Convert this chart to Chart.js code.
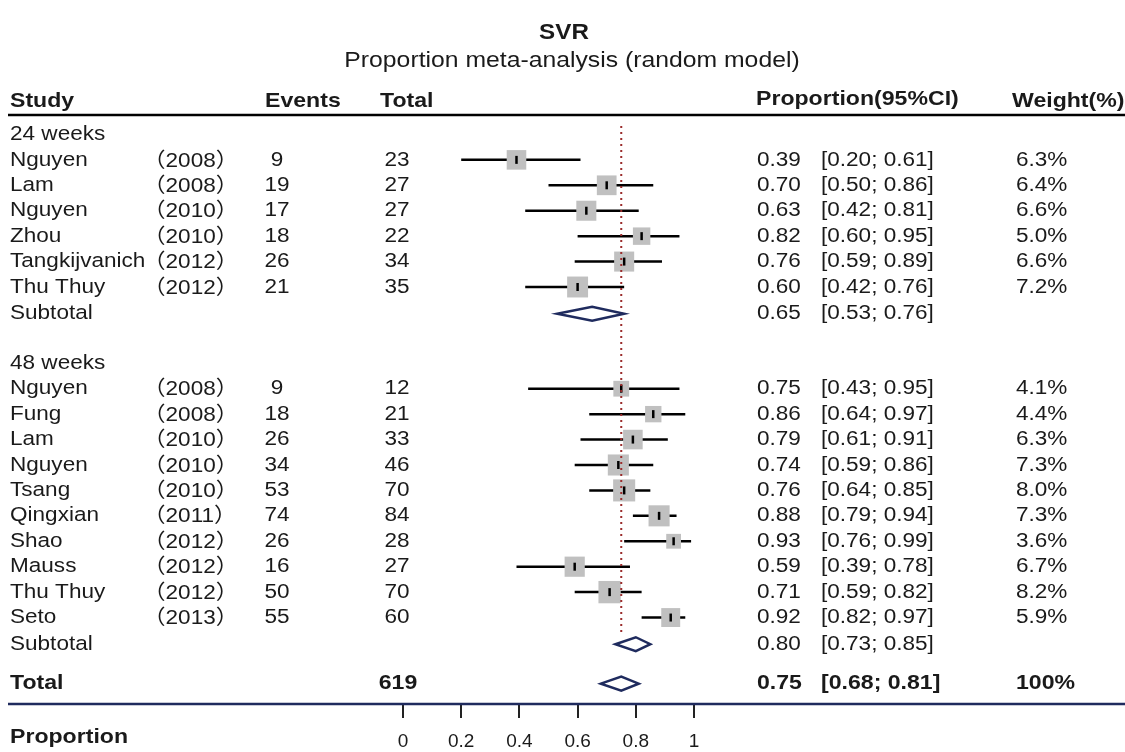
<!DOCTYPE html>
<html>
<head>
<meta charset="utf-8">
<script src="https://cdn.jsdelivr.net/npm/chart.js@4.4.1/dist/chart.umd.min.js"></script>
<style>
  html, body { margin: 0; padding: 0; background: #fff; }
  #wrap { width: 1125px; height: 752px; position: relative; }
</style>
</head>
<body>
<div id="wrap"><canvas id="forest"></canvas></div>
<script>
// data
const groups = ['24 weeks', '48 weeks'];
const groupOf = [0, 0, 0, 0, 0, 0, 1, 1, 1, 1, 1, 1, 1, 1, 1, 1];
const names = ['Nguyen', 'Lam', 'Nguyen', 'Zhou', 'Tangkijvanich', 'Thu Thuy',
  'Nguyen', 'Fung', 'Lam', 'Nguyen', 'Tsang', 'Qingxian', 'Shao', 'Mauss', 'Thu Thuy', 'Seto'];
const years = [2008, 2008, 2010, 2010, 2012, 2012, 2008, 2008, 2010, 2010, 2010, 2011, 2012, 2012, 2012, 2013];
const events = [9, 19, 17, 18, 26, 21, 9, 18, 26, 34, 53, 74, 26, 16, 50, 55];
const totals = [23, 27, 27, 22, 34, 35, 12, 21, 33, 46, 70, 84, 28, 27, 70, 60];
const props = [0.39, 0.70, 0.63, 0.82, 0.76, 0.60, 0.75, 0.86, 0.79, 0.74, 0.76, 0.88, 0.93, 0.59, 0.71, 0.92];
const lower = [0.20, 0.50, 0.42, 0.60, 0.59, 0.42, 0.43, 0.64, 0.61, 0.59, 0.64, 0.79, 0.76, 0.39, 0.59, 0.82];
const upper = [0.61, 0.86, 0.81, 0.95, 0.89, 0.76, 0.95, 0.97, 0.91, 0.86, 0.85, 0.94, 0.99, 0.78, 0.82, 0.97];
const weights = [6.3, 6.4, 6.6, 5.0, 6.6, 7.2, 4.1, 4.4, 6.3, 7.3, 8.0, 7.3, 3.6, 6.7, 8.2, 5.9];

const subProp = [0.65, 0.80];
const subLower = [0.53, 0.73];
const subUpper = [0.76, 0.85];

const totalN = 619;
const totalProp = 0.75;
const totalLower = 0.68;
const totalUpper = 0.81;
const totalWeight = '100%';

const xTicks = [0, 0.2, 0.4, 0.6, 0.8, 1];

// row numbers (y values) for each line of the table
const studyRow = [];
const groupRow = [];
const subRow = [];
let r = 0;
groups.forEach((g, gi) => {
  groupRow.push(r);
  r++;
  names.forEach((n, i) => {
    if (groupOf[i] === gi) { studyRow.push(r); r++; }
  });
  subRow.push(r + 0.05);
  r += 2;
});
const totalRow = r - 0.4;

const FONT = "'Liberation Sans', Arial, 'Noto Sans CJK SC', sans-serif";
const INK = '#1a1a1a';
const NAVY = '#1f2b5e';
const f2 = v => v.toFixed(2);
const ci = (a, b) => '[' + f2(a) + '; ' + f2(b) + ']';
const side = w => 7.8 * Math.sqrt(w);

function txt(ctx, s, x, y, size, bold, align) {
  ctx.save();
  ctx.font = (bold ? 'bold ' : '') + size + 'px ' + FONT;
  ctx.fillStyle = INK;
  ctx.textAlign = align || 'left';
  ctx.textBaseline = 'middle';
  ctx.translate(x, y);
  ctx.scale(1.1, 1);
  ctx.fillText(s, 0, 0);
  ctx.restore();
}

function diamond(ctx, xs, ys, lo, mid, hi, row) {
  const y = ys.getPixelForValue(row);
  ctx.save();
  ctx.beginPath();
  ctx.moveTo(xs.getPixelForValue(lo), y);
  ctx.lineTo(xs.getPixelForValue(mid), y - 7);
  ctx.lineTo(xs.getPixelForValue(hi), y);
  ctx.lineTo(xs.getPixelForValue(mid), y + 7);
  ctx.closePath();
  ctx.fillStyle = '#fff';
  ctx.fill();
  ctx.strokeStyle = NAVY;
  ctx.lineWidth = 2.5;
  ctx.stroke();
  ctx.restore();
}

const forestPlugin = {
  id: 'forest',
  beforeDatasetsDraw(chart) {
    const {ctx, scales: {x, y}} = chart;
    ctx.save();
    ctx.strokeStyle = '#000';
    ctx.lineWidth = 2.5;
    props.forEach((p, i) => {
      const py = y.getPixelForValue(studyRow[i]);
      ctx.beginPath();
      ctx.moveTo(x.getPixelForValue(lower[i]), py);
      ctx.lineTo(x.getPixelForValue(upper[i]), py);
      ctx.stroke();
    });
    ctx.restore();
  },
  afterDatasetsDraw(chart) {
    const {ctx, scales: {x, y}, chartArea} = chart;

    // reference line at the pooled estimate
    ctx.save();
    ctx.strokeStyle = '#9b2c2c';
    ctx.lineWidth = 2;
    ctx.setLineDash([2, 4]);
    ctx.beginPath();
    ctx.moveTo(x.getPixelForValue(totalProp), chartArea.top + 3);
    ctx.lineTo(x.getPixelForValue(totalProp), y.getPixelForValue(subRow[1] - 0.45));
    ctx.stroke();
    ctx.restore();

    subProp.forEach((p, g) => diamond(ctx, x, y, subLower[g], p, subUpper[g], subRow[g]));
    diamond(ctx, x, y, totalLower, totalProp, totalUpper, totalRow);

    // titles
    txt(ctx, 'SVR', 564, 33, 22, true, 'center');
    txt(ctx, 'Proportion meta-analysis (random model)', 572, 61, 22.5, false, 'center');

    // header
    txt(ctx, 'Study', 10, 101, 21, true);
    txt(ctx, 'Events', 265, 101, 21, true);
    txt(ctx, 'Total', 380, 101, 21, true);
    txt(ctx, 'Proportion(95%CI)', 756, 99, 21, true);
    txt(ctx, 'Weight(%)', 1012, 101, 21, true);

    ctx.save();
    ctx.strokeStyle = '#000';
    ctx.lineWidth = 2.5;
    ctx.beginPath();
    ctx.moveTo(8, 115);
    ctx.lineTo(1125, 115);
    ctx.stroke();
    ctx.restore();

    // table body
    groups.forEach((g, gi) => {
      txt(ctx, g, 10, y.getPixelForValue(groupRow[gi]), 20.5, false);
      const sy = y.getPixelForValue(subRow[gi]);
      txt(ctx, 'Subtotal', 10, sy, 20.5, false);
      txt(ctx, f2(subProp[gi]), 757, sy, 20.5, false);
      txt(ctx, ci(subLower[gi], subUpper[gi]), 821, sy, 20.5, false);
    });
    names.forEach((n, i) => {
      const py = y.getPixelForValue(studyRow[i]);
      txt(ctx, n, 10, py, 20.5, false);
      txt(ctx, '（' + years[i] + '）', 143, py + 1, 20.5, false);
      txt(ctx, String(events[i]), 277, py, 20.5, false, 'center');
      txt(ctx, String(totals[i]), 397, py, 20.5, false, 'center');
      txt(ctx, f2(props[i]), 757, py, 20.5, false);
      txt(ctx, ci(lower[i], upper[i]), 821, py, 20.5, false);
      txt(ctx, weights[i].toFixed(1) + '%', 1016, py, 20.5, false);
    });

    const ty = y.getPixelForValue(totalRow);
    txt(ctx, 'Total', 10, ty, 21, true);
    txt(ctx, String(totalN), 398, ty, 21, true, 'center');
    txt(ctx, f2(totalProp), 757, ty, 21, true);
    txt(ctx, ci(totalLower, totalUpper), 821, ty, 21, true);
    txt(ctx, totalWeight, 1016, ty, 21, true);

    // bottom rule and axis caption
    ctx.save();
    ctx.strokeStyle = NAVY;
    ctx.lineWidth = 2.5;
    ctx.beginPath();
    ctx.moveTo(8, chartArea.bottom);
    ctx.lineTo(1125, chartArea.bottom);
    ctx.stroke();
    ctx.restore();
    txt(ctx, 'Proportion', 10, 737, 21, true);
  }
};

new Chart(document.getElementById('forest'), {
  type: 'scatter',
  data: {
    datasets: [{
      label: 'Estimate',
      order: 0,
      data: props.map((p, i) => ({x: p, y: studyRow[i]})),
      pointStyle: 'line',
      rotation: 90,
      pointRadius: 4,
      borderColor: '#000',
      borderWidth: 2.5
    }, {
      label: 'Study weight',
      order: 1,
      data: props.map((p, i) => ({x: p, y: studyRow[i]})),
      pointStyle: 'rect',
      pointRadius: c => side(weights[c.dataIndex]) / Math.SQRT2,
      backgroundColor: '#c0c0c0',
      borderWidth: 0
    }]
  },
  options: {
    responsive: true,
    maintainAspectRatio: false,
    animation: false,
    events: [],
    layout: {padding: {left: 403, right: 431, top: 123, bottom: 0}},
    plugins: {legend: {display: false}, tooltip: {enabled: false}},
    scales: {
      x: {
        type: 'linear',
        min: 0,
        max: 1,
        afterBuildTicks: s => { s.ticks = xTicks.map(v => ({value: v})); },
        afterFit: s => { s.height = 48; },
        ticks: {
          font: {family: FONT, size: 19},
          color: '#1a1a1a',
          padding: 12,
          callback: v => String(Math.round(v * 10) / 10)
        },
        grid: {drawOnChartArea: false, tickLength: 14, color: '#222', lineWidth: 2},
        border: {display: false}
      },
      y: {type: 'linear', reverse: true, min: -0.45, max: 22.4, display: false}
    }
  },
  plugins: [forestPlugin]
});
</script>
</body>
</html>
